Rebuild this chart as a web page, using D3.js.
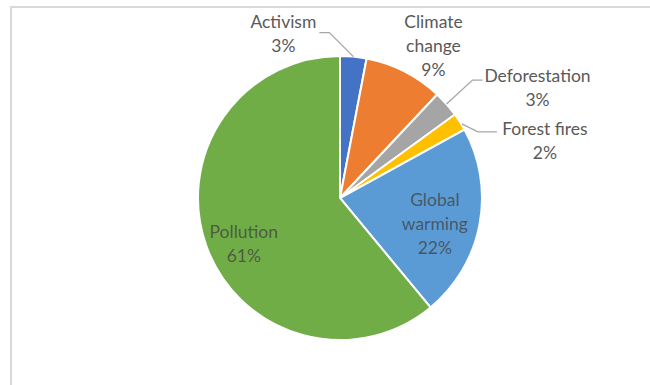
<!DOCTYPE html>
<html>
<head>
<meta charset="utf-8">
<script src="https://cdn.jsdelivr.net/npm/d3@7"></script>
<style>
  body { margin: 0; background: #fff; }
  svg { display: block; }
</style>
</head>
<body>
<svg id="chart" width="650" height="385"></svg>
<script>
// data
var categories = ["Activism", "Climate change", "Deforestation", "Forest fires", "Global warming", "Pollution"];
var values = [3, 9, 3, 2, 22, 61];
var colors = ["#4472C4", "#ED7D31", "#A5A5A5", "#FFC000", "#5B9BD5", "#70AD47"];
// label text lines
var labelLines = [
  ["Activism", "3%"],
  ["Climate", "change", "9%"],
  ["Deforestation", "3%"],
  ["Forest fires", "2%"],
  ["Global", "warming", "22%"],
  ["Pollution", "61%"]
];

var svg = d3.select("#chart");
var width = 650, height = 385;
var cx = 340, cy = 198, radius = 142;
var lineH = 24;

// chart area border (top + left visible)
svg.append("path")
  .attr("d", "M11,385 V7 H650")
  .attr("fill", "none")
  .attr("stroke", "#d9d9d9")
  .attr("stroke-width", 2);

var pie = d3.pie().sort(null).value(d => d);
var arcs = pie(values);

var arc = d3.arc().innerRadius(0).outerRadius(radius);

var g = svg.append("g").attr("transform", `translate(${cx},${cy})`);

g.selectAll("path.slice")
  .data(arcs)
  .enter().append("path")
    .attr("class", "slice")
    .attr("d", arc)
    .attr("fill", (d, i) => colors[i])
    .attr("stroke", "#fff")
    .attr("stroke-width", 2);

// label layout: point on the slice's mid angle at radius*factor, then nudged
// [outside?, radius factor, dx, dy]
var labelLayout = [
  [true, 1.0, -70, -23],
  [true, 1.0, 29, -26],
  [true, 1.0, 91, -16],
  [true, 1.0, 85, 19],
  [false, 0.68, 0, 8],
  [false, 0.72, 0, 11]
];

function polar(a, r) {
  return [Math.sin(a) * r, -Math.cos(a) * r];
}

arcs.forEach(function(d, i) {
  var mid = (d.startAngle + d.endAngle) / 2;
  var lay = labelLayout[i];
  var base = polar(mid, radius * lay[1]);
  var lx = base[0] + lay[2], ly = base[1] + lay[3];
  var lines = labelLines[i];
  var t = g.append("text")
    .attr("text-anchor", "middle")
    .attr("font-family", "Lato, 'Open Sans', sans-serif")
    .attr("font-size", 17.5)
    .attr("fill", lay[0] ? "#595959" : "#404040")
    .attr("fill-opacity", lay[0] ? 1 : 0.75);
  lines.forEach(function(s, k) {
    t.append("tspan")
      .attr("x", lx)
      .attr("y", ly + (k - (lines.length - 1) / 2) * lineH)
      .attr("dy", "0.35em")
      .text(s);
  });
});

// leader lines for outside labels
var edge = i => polar((arcs[i].startAngle + arcs[i].endAngle) / 2, radius);
var line = d3.line();
// Activism
var e0 = edge(0);
g.append("path").attr("class", "leader")
  .attr("d", line([e0, [e0[0] - 24, e0[1] - 24], [e0[0] - 34, e0[1] - 24]]));
// Deforestation
var e2 = edge(2);
g.append("path").attr("class", "leader")
  .attr("d", line([e2, [e2[0] + 26, e2[1] - 24], [e2[0] + 36, e2[1] - 24]]));
// Forest fires
var e3 = edge(3);
g.append("path").attr("class", "leader")
  .attr("d", line([[e3[0] + 2, e3[1] + 2], [e3[0] + 18, e3[1] + 10], [e3[0] + 37, e3[1] + 10]]));
g.selectAll("path.leader")
  .attr("fill", "none")
  .attr("stroke", "#a6a6a6")
  .attr("stroke-width", 1.3);
</script>
</body>
</html>
